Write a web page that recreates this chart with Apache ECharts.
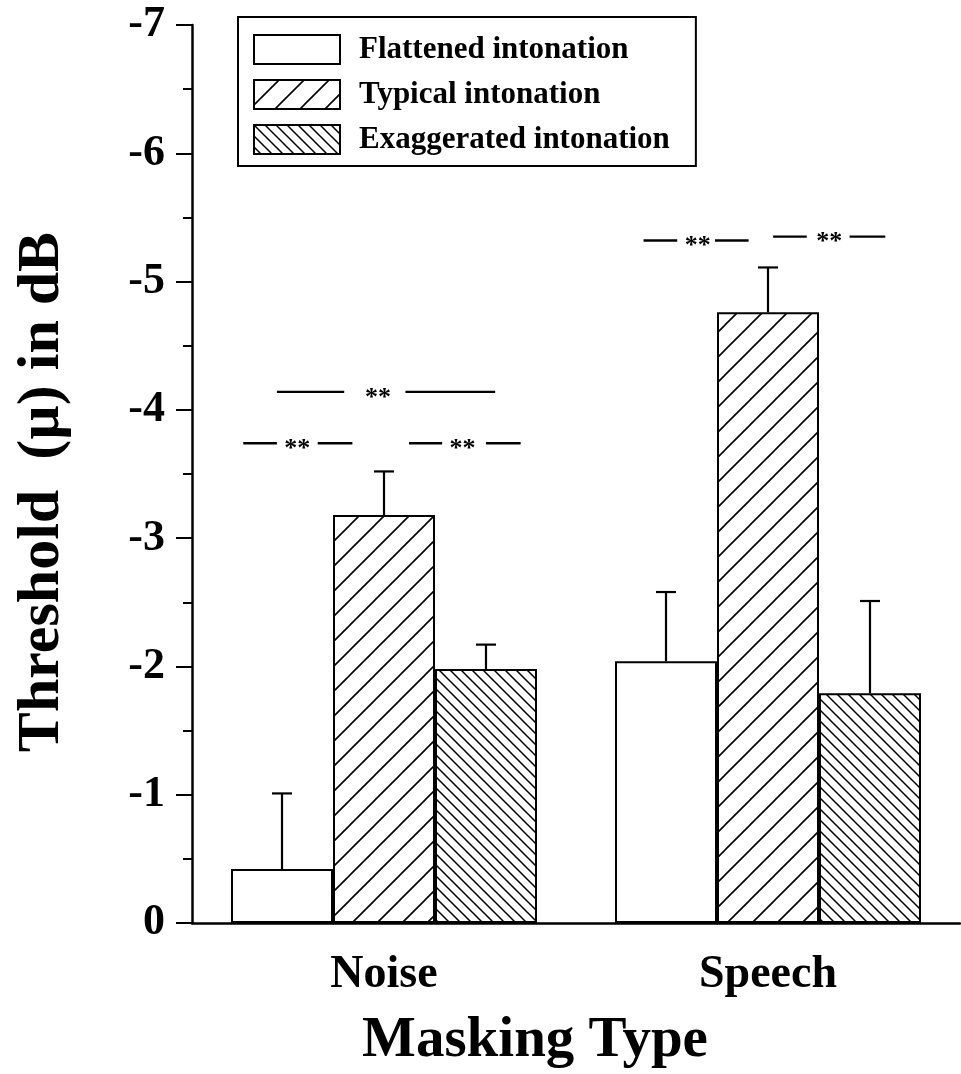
<!DOCTYPE html>
<html>
<head>
<meta charset="utf-8">
<title>Threshold by masking type</title>
<script src="https://cdn.jsdelivr.net/npm/echarts@6/dist/echarts.min.js"></script>
<style>
  html, body { margin: 0; padding: 0; background: #fff; }
  #chart { width: 961px; height: 1074px; }
</style>
</head>
<body>
<div id="chart"></div>
<script>
// data
var categories = ['Noise', 'Speech'];
var seriesNames = ['Flattened intonation', 'Typical intonation', 'Exaggerated intonation'];
var flattened = [-0.42, -2.04];
var typical = [-3.18, -4.76];
var exaggerated = [-1.98, -1.79];
var flattenedErr = [-1.01, -2.58];
var typicalErr = [-3.52, -5.11];
var exaggeratedErr = [-2.17, -2.51];
var yTicks = [-7, -6, -5, -4, -3, -2, -1, 0];

// significance marks: category index and level
var sigCats = [0, 0, 0, 1, 1];
var sigLevels = [-3.74, -3.74, -4.14, -5.32, -5.35];
// layout of each mark in bar widths from the category centre: from, to, star, gap left, gap right
var sigLayout = [
    [-1.38, -0.31, -0.85, 0.2, 0.2],
    [0.245, 1.34, 0.77, 0.2, 0.23],
    [-1.05, 1.09, -0.06, 0.33, 0.27],
    [-1.22, -0.19, -0.69, 0.2, 0.17],
    [0.05, 1.15, 0.6, 0.22, 0.2]
];

var FONT = "'Liberation Serif', 'Times New Roman', serif";
var BAR_FRAC = 0.2656;

function hatch(s, dir, lw) {
    var c = document.createElement('canvas');
    c.width = s; c.height = s;
    var ctx = c.getContext('2d');
    ctx.fillStyle = '#fff';
    ctx.fillRect(0, 0, s, s);
    ctx.strokeStyle = '#000';
    ctx.lineWidth = lw;
    ctx.beginPath();
    if (dir > 0) {
        ctx.moveTo(0, s); ctx.lineTo(s, 0);
        ctx.moveTo(-s, s); ctx.lineTo(s, -s);
        ctx.moveTo(0, 2 * s); ctx.lineTo(2 * s, 0);
    } else {
        ctx.moveTo(0, 0); ctx.lineTo(s, s);
        ctx.moveTo(-s, 0); ctx.lineTo(s, 2 * s);
        ctx.moveTo(0, -s); ctx.lineTo(2 * s, s);
    }
    ctx.stroke();
    return { image: c, repeat: 'repeat' };
}

var fills = ['#fff', hatch(25, 1, 1.6), hatch(11, -1, 1.5)];
var means = [flattened, typical, exaggerated];
var errs = [flattenedErr, typicalErr, exaggeratedErr];

var series = [];
for (var i = 0; i < 3; i++) {
    series.push({
        name: seriesNames[i],
        type: 'bar',
        data: means[i],
        barWidth: (BAR_FRAC * 100) + '%',
        barGap: '0%',
        itemStyle: { color: fills[i], borderColor: '#000', borderWidth: 2 },
        emphasis: { disabled: true },
        z: 2
    });
}

for (var j = 0; j < 3; j++) {
    (function (idx) {
        var d = [];
        for (var k = 0; k < categories.length; k++) {
            d.push([k, errs[idx][k], means[idx][k]]);
        }
        series.push({
            type: 'custom',
            data: d,
            z: 3,
            silent: true,
            renderItem: function (params, api) {
                var band = api.size([1, 0])[0];
                var off = (idx - 1) * band * BAR_FRAC;
                var top = api.coord([api.value(0), api.value(1)]);
                var base = api.coord([api.value(0), api.value(2)]);
                var x = top[0] + off;
                var st = { stroke: '#000', lineWidth: 2.2 };
                return {
                    type: 'group',
                    children: [
                        { type: 'line', shape: { x1: x, y1: base[1], x2: x, y2: top[1] }, style: st },
                        { type: 'line', shape: { x1: x - 10, y1: top[1], x2: x + 10, y2: top[1] }, style: st }
                    ]
                };
            }
        });
    })(j);
}

var sigData = [];
for (var m = 0; m < sigCats.length; m++) {
    sigData.push([sigCats[m], sigLevels[m]].concat(sigLayout[m]));
}
series.push({
    type: 'custom',
    data: sigData,
    z: 4,
    silent: true,
    renderItem: function (params, api) {
        var band = api.size([1, 0])[0];
        var u = band * BAR_FRAC;
        var p = api.coord([api.value(0), api.value(1)]);
        var cx = p[0], y = p[1];
        var x0 = cx + api.value(2) * u, x1 = cx + api.value(3) * u;
        var xs = cx + api.value(4) * u;
        var gl = api.value(5) * u, gr = api.value(6) * u;
        var st = { stroke: '#000', lineWidth: 2.4 };
        return {
            type: 'group',
            children: [
                { type: 'line', shape: { x1: x0, y1: y, x2: xs - gl, y2: y }, style: st },
                { type: 'line', shape: { x1: xs + gr, y1: y, x2: x1, y2: y }, style: st },
                { type: 'text', x: xs, y: y + 6, style: { text: '**', fill: '#000', font: 'bold 26px ' + FONT, align: 'center', verticalAlign: 'middle' } }
            ]
        };
    }
});

var chart = echarts.init(document.getElementById('chart'));
var option = {
    animation: false,
    backgroundColor: '#fff',
    grid: { left: 192, right: 1, top: 25, bottom: 151, containLabel: false, outerBoundsMode: 'none' },
    legend: {
        data: seriesNames,
        orient: 'vertical',
        left: 238,
        top: 17,
        icon: 'rect',
        itemWidth: 86,
        itemHeight: 29,
        itemGap: 14,
        padding: [17, 26, 11, 15],
        borderColor: '#000',
        borderWidth: 2,
        selectedMode: false,
        textStyle: { fontFamily: FONT, fontWeight: 'bold', fontSize: 31, color: '#000', padding: [0, 0, 0, 14] }
    },
    xAxis: {
        type: 'category',
        data: categories,
        name: 'Masking Type',
        nameLocation: 'middle',
        nameGap: 90,
        nameTextStyle: { fontFamily: FONT, fontWeight: 'bold', fontSize: 57, color: '#000', padding: [0, 82, 0, 0] },
        axisLine: { lineStyle: { color: '#000', width: 2.5 } },
        axisTick: { alignWithLabel: true, length: 18, lineStyle: { color: '#000', width: 2 } },
        axisLabel: { fontFamily: FONT, fontWeight: 'bold', fontSize: 46, color: '#000', margin: 29 },
        splitLine: { show: false }
    },
    yAxis: {
        type: 'value',
        inverse: true,
        min: yTicks[0],
        max: yTicks[yTicks.length - 1],
        interval: 1,
        name: 'Threshold  (\u00b5) in dB',
        nameLocation: 'middle',
        nameGap: 120,
        nameRotate: 90,
        nameTextStyle: { fontFamily: FONT, fontWeight: 'bold', fontSize: 60, color: '#000', padding: [0, 36, 0, 0] },
        axisLine: { show: true, lineStyle: { color: '#000', width: 2.5 } },
        axisTick: { show: true, length: 16, lineStyle: { color: '#000', width: 2 } },
        minorTick: { show: true, splitNumber: 2, length: 9, lineStyle: { color: '#000', width: 2 } },
        axisLabel: { fontFamily: FONT, fontWeight: 'bold', fontSize: 44, color: '#000', margin: 27 },
        splitLine: { show: false }
    },
    series: series
};
chart.setOption(option);
</script>
</body>
</html>
